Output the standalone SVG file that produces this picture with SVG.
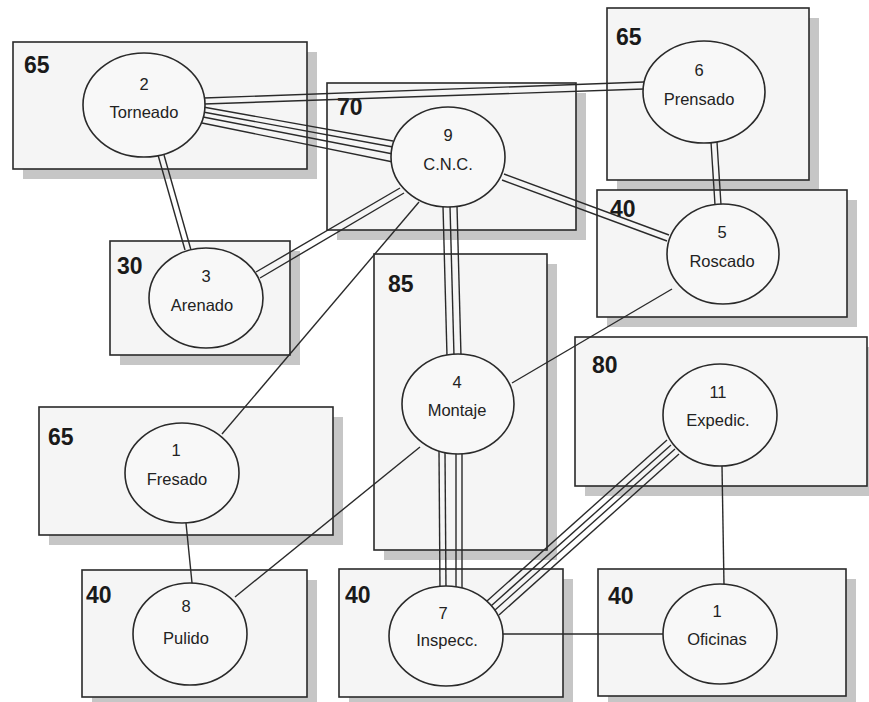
<svg xmlns="http://www.w3.org/2000/svg" width="869" height="702" viewBox="0 0 869 702">
<style>
.sh{fill:#c6c6c6}
.bx{fill:#f5f5f5;stroke:#2a2a2a;stroke-width:1.6}
.cap{font-family:"Liberation Sans",Arial,sans-serif;font-weight:bold;font-size:23px;fill:#1a1a1a}
.el{fill:#f8f8f8;stroke:#2a2a2a;stroke-width:1.6}
.t{font-family:"Liberation Sans",Arial,sans-serif;font-size:16.5px;fill:#222;text-anchor:middle}
#connectors line{stroke:#2a2a2a;stroke-width:1.4;fill:none}
</style>
<rect width="869" height="702" fill="#ffffff"/>
<g id="zones">
<g id="zone-2"><rect class="sh" x="23" y="52" width="294" height="127"/><rect class="bx" x="13" y="42" width="294" height="127"/><text class="cap" x="24" y="73">65</text></g>
<g id="zone-9"><rect class="sh" x="337" y="93" width="249" height="147"/><rect class="bx" x="327" y="83" width="249" height="147"/><text class="cap" x="337" y="115">70</text></g>
<g id="zone-6"><rect class="sh" x="617" y="18" width="202" height="172"/><rect class="bx" x="607" y="8" width="202" height="172"/><text class="cap" x="616" y="45">65</text></g>
<g id="zone-5"><rect class="sh" x="607" y="200" width="250" height="127"/><rect class="bx" x="597" y="190" width="250" height="127"/><text class="cap" x="610" y="217">40</text></g>
<g id="zone-3"><rect class="sh" x="120" y="251" width="180" height="114"/><rect class="bx" x="110" y="241" width="180" height="114"/><text class="cap" x="117" y="274">30</text></g>
<g id="zone-1"><rect class="sh" x="49" y="417" width="294" height="128"/><rect class="bx" x="39" y="407" width="294" height="128"/><text class="cap" x="48" y="445">65</text></g>
<g id="zone-8"><rect class="sh" x="92" y="580" width="225" height="127"/><rect class="bx" x="82" y="570" width="225" height="127"/><text class="cap" x="86" y="603">40</text></g>
<g id="zone-4"><rect class="sh" x="384" y="264" width="173" height="296"/><rect class="bx" x="374" y="254" width="173" height="296"/><text class="cap" x="388" y="292">85</text></g>
<g id="zone-7"><rect class="sh" x="349" y="579" width="224" height="128"/><rect class="bx" x="339" y="569" width="224" height="128"/><text class="cap" x="345" y="603">40</text></g>
<g id="zone-11"><rect class="sh" x="585" y="347" width="292" height="149"/><rect class="bx" x="575" y="337" width="292" height="149"/><text class="cap" x="592" y="373">80</text></g>
<g id="zone-10"><rect class="sh" x="608" y="579" width="248" height="127"/><rect class="bx" x="598" y="569" width="248" height="127"/><text class="cap" x="608" y="604">40</text></g>
</g>
<g id="connectors">
<line x1="204" y1="98" x2="644" y2="82"/>
<line x1="204" y1="104" x2="644" y2="89"/>
<line x1="203" y1="107" x2="393" y2="141"/>
<line x1="203" y1="112" x2="393" y2="147"/>
<line x1="203" y1="117" x2="393" y2="154"/>
<line x1="202" y1="123" x2="393" y2="162"/>
<line x1="158" y1="155" x2="185" y2="250"/>
<line x1="164" y1="155" x2="191" y2="250"/>
<line x1="400" y1="188" x2="256" y2="272"/>
<line x1="404" y1="193" x2="260" y2="278"/>
<line x1="419" y1="202" x2="222" y2="434"/>
<line x1="443" y1="206" x2="447" y2="356"/>
<line x1="450" y1="206" x2="454" y2="356"/>
<line x1="457" y1="206" x2="461" y2="356"/>
<line x1="504" y1="174" x2="669" y2="235"/>
<line x1="502" y1="180" x2="667" y2="241"/>
<line x1="711" y1="142" x2="715" y2="205"/>
<line x1="717" y1="142" x2="721" y2="205"/>
<line x1="672" y1="289" x2="512" y2="383"/>
<line x1="420" y1="447" x2="235" y2="597"/>
<line x1="186" y1="523" x2="192" y2="583"/>
<line x1="439" y1="451" x2="440" y2="590"/>
<line x1="445" y1="452" x2="446" y2="589"/>
<line x1="456" y1="453" x2="456" y2="589"/>
<line x1="462" y1="453" x2="462" y2="590"/>
<line x1="667" y1="440" x2="487" y2="601"/>
<line x1="671" y1="445" x2="491" y2="606"/>
<line x1="675" y1="449" x2="495" y2="610"/>
<line x1="679" y1="454" x2="499" y2="615"/>
<line x1="722" y1="466" x2="724" y2="585"/>
<line x1="503" y1="634" x2="663" y2="634"/>
</g>
<g id="node-2"><ellipse class="el" cx="144" cy="105" rx="61" ry="52"/><text class="t" x="144" y="90">2</text><text class="t" x="144" y="118">Torneado</text></g>
<g id="node-9"><ellipse class="el" cx="448" cy="157" rx="57" ry="50"/><text class="t" x="448" y="141">9</text><text class="t" x="448" y="170">C.N.C.</text></g>
<g id="node-6"><ellipse class="el" cx="704" cy="92" rx="61" ry="51"/><text class="t" x="699" y="76">6</text><text class="t" x="699" y="105">Prensado</text></g>
<g id="node-5"><ellipse class="el" cx="723" cy="254" rx="56" ry="50"/><text class="t" x="722" y="238">5</text><text class="t" x="722" y="267">Roscado</text></g>
<g id="node-3"><ellipse class="el" cx="206" cy="298" rx="57" ry="50"/><text class="t" x="206" y="282">3</text><text class="t" x="202" y="311">Arenado</text></g>
<g id="node-1"><ellipse class="el" cx="182" cy="473" rx="57" ry="50"/><text class="t" x="176" y="456">1</text><text class="t" x="177" y="485">Fresado</text></g>
<g id="node-8"><ellipse class="el" cx="190" cy="634" rx="57" ry="51"/><text class="t" x="186" y="612">8</text><text class="t" x="186" y="644">Pulido</text></g>
<g id="node-4"><ellipse class="el" cx="458" cy="404" rx="56" ry="50"/><text class="t" x="457" y="388">4</text><text class="t" x="457" y="416">Montaje</text></g>
<g id="node-7"><ellipse class="el" cx="446" cy="636" rx="57" ry="50"/><text class="t" x="443" y="619">7</text><text class="t" x="447" y="646">Inspecc.</text></g>
<g id="node-11"><ellipse class="el" cx="720" cy="415" rx="57" ry="51"/><text class="t" x="718" y="398">11</text><text class="t" x="718" y="426">Expedic.</text></g>
<g id="node-10"><ellipse class="el" cx="720" cy="634" rx="57" ry="50"/><text class="t" x="717" y="617">1</text><text class="t" x="717" y="645">Oficinas</text></g>
</svg>
